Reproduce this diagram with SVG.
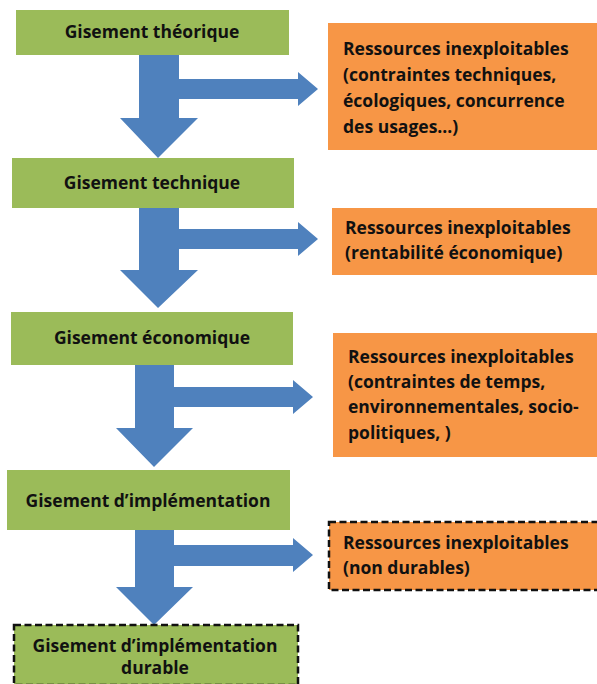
<svg xmlns="http://www.w3.org/2000/svg" width="597" height="684" viewBox="0 0 597 684">
<style>
.g{fill:#9BBB59}
.o{fill:#F79646}
.d{stroke:#111;stroke-width:2.5;stroke-dasharray:7,3.5}
.a{fill:#4F81BD}
text{font-family:"Open Sans","Liberation Sans",Arial,sans-serif;font-weight:bold;font-size:17.5px;fill:#111}
.c{text-anchor:middle}
</style>
<rect width="597" height="684" fill="#fff"/>
<g id="connectors">
<path class="a" d="M139,55 H179 V79 H298 V72 L318,89 L298,106 V99 H179 V118 H198 L158,158 L120,118 H139 Z"/>
<path class="a" d="M139,208 H179 V229 H298 V222 L318,239 L298,256 V249 H179 V270 H198 L158,308 L120,270 H139 Z"/>
<path class="a" d="M135,365 H174 V387 H293 V380 L313,397 L293,414 V407 H174 V428 H193 L154,467 L116,428 H135 Z"/>
<path class="a" d="M135,530 H174 V545 H293 V538 L313,555 L293,572 V566 H174 V587 H193 L154,625 L116,587 H135 Z"/>
</g>
<g id="n1"><rect class="g" x="16" y="10" width="273" height="45"/><text class="c" x="152" y="38">Gisement théorique</text></g>
<g id="n2"><rect class="o" x="328" y="23" width="269" height="127"/>
<text x="343" y="55">Ressources inexploitables</text>
<text x="343" y="81">(contraintes techniques,</text>
<text x="343" y="107">écologiques, concurrence</text>
<text x="343" y="133">des usages…)</text></g>
<g id="n3"><rect class="g" x="12" y="158" width="282" height="50"/><text class="c" x="152" y="189">Gisement technique</text></g>
<g id="n4"><rect class="o" x="332" y="208" width="265" height="67"/>
<text x="345" y="234">Ressources inexploitables</text>
<text x="345" y="259">(rentabilité économique)</text></g>
<g id="n5"><rect class="g" x="11" y="312" width="282" height="53"/><text class="c" x="152" y="344">Gisement économique</text></g>
<g id="n6"><rect class="o" x="333" y="333" width="264" height="124"/>
<text x="348" y="363">Ressources inexploitables</text>
<text x="348" y="388">(contraintes de temps,</text>
<text x="348" y="413">environnementales, socio-</text>
<text x="348" y="439">politiques, )</text></g>
<g id="n7"><rect class="g" x="7" y="470" width="283" height="60"/><text class="c" x="148" y="507">Gisement d’implémentation</text></g>
<g id="n8"><rect class="o d" x="329" y="522" width="270" height="68"/>
<text x="343" y="549">Ressources inexploitables</text>
<text x="343" y="574">(non durables)</text></g>
<g id="n9"><rect class="g d" x="14" y="625" width="284" height="60"/>
<text class="c" x="155" y="652">Gisement d’implémentation</text>
<text class="c" x="155" y="674">durable</text></g>
</svg>
